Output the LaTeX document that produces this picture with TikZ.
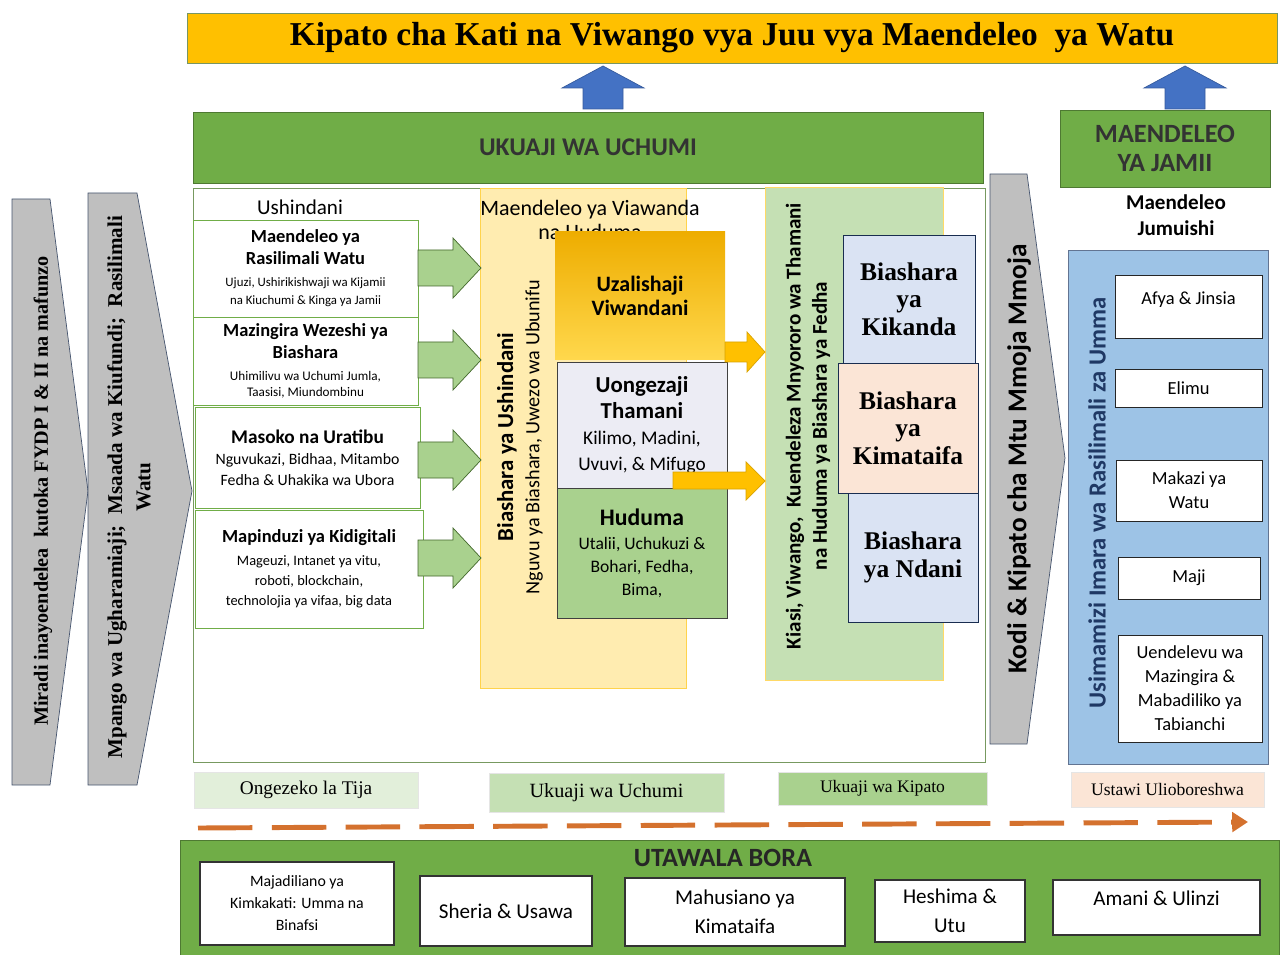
\documentclass[tikz,border=0pt]{standalone}
\usepackage{fontspec}
\setmainfont{Liberation Serif}
\setsansfont{Carlito}
\usepackage{tikz}
\usetikzlibrary{arrows.meta}

\definecolor{kgold}{HTML}{FFC000}
\definecolor{kgoldtop}{HTML}{EEAD00}
\definecolor{kgoldbottom}{HTML}{FFD84D}
\definecolor{kblue}{HTML}{4472C4}
\definecolor{kgreen}{HTML}{70AD47}
\definecolor{kgreenmid}{HTML}{A9D18E}
\definecolor{kgreenlight}{HTML}{C5E0B4}
\definecolor{kgreenpale}{HTML}{E2EFDA}
\definecolor{kyellow}{HTML}{FFECB0}
\definecolor{kbluepale}{HTML}{DAE3F3}
\definecolor{kpeach}{HTML}{FBE5D6}
\definecolor{klavender}{HTML}{ECECF4}
\definecolor{kbluemid}{HTML}{9DC3E6}
\definecolor{kgray}{HTML}{BFBFBF}
\definecolor{knavy}{HTML}{1F3864}
\definecolor{krust}{HTML}{D4712E}

\newcommand{\fsz}[2]{\fontsize{#1}{#2}\selectfont}

\begin{document}
\begin{tikzpicture}[x=0.02cm, y=-0.02cm,
    span/.style n args={4}{at={({(#1+#3)/2},{(#2+#4)/2})},
        minimum width={(#3-#1)*0.02cm}, minimum height={(#4-#2)*0.02cm}},
    box/.style={inner sep=0pt, align=center},
    pillar/.style={box, draw=kgreen!70!black, fill=kgreen, text=black!80},
    gbox/.style={box, draw=kgreen, fill=white},
    dbox/.style={box, draw=black!75},
    tbox/.style={box, draw=knavy!80!black, font=\bfseries\fsz{14.5}{15.6}},
    wbox/.style={box, draw=black!85, fill=white, font=\sffamily\fsz{10.5}{13.6}},
    ubox/.style={box, draw=black!80, fill=white, semithick, font=\sffamily\fsz{12}{16.4}},
    phase/.style={box, draw=black!10, font=\fsz{11}{13}},
    chevron/.style={draw=knavy!60!gray, fill=kgray},
    greenarrow/.style={draw=kgreen!60!black, fill=kgreenmid},
    goldarrow/.style={draw=kgold!85!black, fill=kgold},
    bluearrow/.style={draw=kblue!80!black, fill=kblue}]
    \useasboundingbox (0,0) rectangle (1283,955);

    % Title banner and the two arrows feeding it
    \node[box, draw=kgreen!50!gray, fill=kgold, span={187}{13}{1277}{63},
          font=\bfseries\fsz{19}{22}] (kipato) {Kipato cha Kati na Viwango vya Juu vya Maendeleo\ \ ya Watu};
    \foreach \cx in {603,1185}
        \draw[bluearrow] (\cx-20,109) -- (\cx-20,88) -- (\cx-41,88) -- (\cx,66)
            -- (\cx+41,88) -- (\cx+20,88) -- (\cx+20,109) -- cycle;

    % Pillar headings
    \node[pillar, span={193}{112}{983}{183}, font=\sffamily\bfseries\fsz{14.5}{16}] (uchumi) {UKUAJI WA UCHUMI};
    \node[pillar, span={1060}{110}{1270}{187}, font=\sffamily\bfseries\fsz{15}{16.5}] (jamii) {MAENDELEO\\YA JAMII};

    % Frame round the growth pillar
    \node[box, draw=kgreen!55!gray, fill=white, span={193}{188}{985}{762}] (frame) {};

    % Chevrons
    \draw[chevron] (12,199) -- (50,199) -- (88,491) -- (50,785) -- (12,785) -- cycle;
    \node[rotate=90, font=\bfseries\fsz{11.5}{14}] (miradi) at (43,491) {Miradi inayoendelea\ \ kutoka FYDP I \& II na mafunzo};
    \draw[chevron] (88,193) -- (137,193) -- (192,491) -- (137,785) -- (88,785) -- cycle;
    \node[rotate=90, box, font=\bfseries\fsz{12}{16}] (mpango) at (129,487) {Mpango wa Ugharamiaji;\ \ Msaada wa Kiufundi;\ \ Rasilimali\\Watu};
    \draw[chevron] (990,174) -- (1027,174) -- (1065,458) -- (1027,744) -- (990,744) -- cycle;
    \node[rotate=90, font=\sffamily\bfseries\fsz{15.5}{17}] (kodi) at (1019,459) {Kodi \& Kipato cha Mtu Mmoja Mmoja};

    % Ushindani column
    \node[font=\sffamily\fsz{12}{14}] (ushindani) at (300,207) {Ushindani};
    \node[gbox, span={193}{220}{418}{317}, font=\sffamily\fsz{7.3}{10.2}] (rasilimali)
        {{\bfseries\fsz{10.5}{12}Maendeleo ya}\\[2.3pt]{\bfseries\fsz{10.5}{12}Rasilimali Watu}\\[2.3pt]Ujuzi, Ushirikishwaji wa Kijamii\\na Kiuchumi \& Kinga ya Jamii};
    \node[gbox, span={193}{317}{418}{405}, font=\sffamily\fsz{7.5}{9}] (wezeshi)
        {{\bfseries\fsz{10.5}{12}Mazingira Wezeshi ya}\\[2.3pt]{\bfseries\fsz{10.5}{12}Biashara}\\[3.5pt]Uhimilivu wa Uchumi Jumla,\\Taasisi, Miundombinu};
    \node[gbox, span={195}{407}{420}{508}, font=\sffamily\fsz{9}{12}] (masoko)
        {{\bfseries\fsz{11}{12}Masoko na Uratibu}\\Nguvukazi, Bidhaa, Mitambo\\Fedha \& Uhakika wa Ubora};
    \node[gbox, span={195}{510}{423}{628}, font=\sffamily\fsz{8.2}{11.5}] (kidigitali)
        {{\bfseries\fsz{10.5}{12}Mapinduzi ya Kidigitali}\\[1.5pt]Mageuzi, Intanet ya vitu,\\roboti, blockchain,\\technolojia ya vifaa, big data};

    % Industry and services column
    \node[box, draw=kgold!70, fill=kyellow, span={480}{188}{686}{688}] (viwanda) {};
    \node[box, font=\sffamily\fsz{12.5}{14}] (viwandatitle) at (590,220) {Maendeleo ya Viawanda\\na Huduma};
    \node[rotate=90, box, font=\sffamily\fsz{11.5}{15}] (ushbiashara) at (520,437)
        {{\bfseries\fsz{13}{15}Biashara ya Ushindani}\\Nguvu ya Biashara, Uwezo wa Ubunifu};
    \foreach \yy in {268,360,460,558}
        \draw[greenarrow] (418,\yy-18) -- (453,\yy-18) -- (453,\yy-30) -- (481,\yy)
            -- (453,\yy+30) -- (453,\yy+18) -- (418,\yy+18) -- cycle;
    \node[box, top color=kgoldtop, bottom color=kgoldbottom, span={555}{232}{725}{360},
          font=\sffamily\bfseries\fsz{12.5}{14}] (uzalishaji) {Uzalishaji\\Viwandani};
    \node[dbox, fill=klavender, span={557}{362}{727}{488}, font=\sffamily\fsz{11}{14.7}] (thamani)
        {{\bfseries\fsz{13}{14}Uongezaji}\\{\bfseries\fsz{13}{14}Thamani}\\Kilimo, Madini,\\Uvuvi, \& Mifugo};
    \node[dbox, fill=kgreenmid, span={557}{488}{727}{618}, font=\sffamily\fsz{10}{13}] (huduma)
        {{\bfseries\fsz{13.5}{15}Huduma}\\[1pt]Utalii, Uchukuzi \&\\Bohari, Fedha,\\Bima,};

    % Trade column
    \node[box, draw=kgold!60, fill=kgreenlight, span={765}{187}{943}{680}] (fedha) {};
    \node[rotate=90, box, font=\sffamily\bfseries\fsz{12}{15}] (kiasi) at (808,426)
        {Kiasi, Viwango,\ \ Kuendeleza Mnyororo wa Thamani\\na Huduma ya Biashara ya Fedha};
    \draw[goldarrow] (725,342) -- (747,342) -- (747,332) -- (765,352) -- (747,372) -- (747,362) -- (725,362) -- cycle;
    \draw[goldarrow] (673,472) -- (746,472) -- (746,462) -- (765,481) -- (746,500) -- (746,489) -- (673,489) -- cycle;
    \node[tbox, fill=kbluepale, span={843}{235}{975}{363}] (kikanda) {Biashara\\ya\\Kikanda};
    \node[tbox, fill=kpeach, span={838}{363}{978}{493}] (kimataifa) {Biashara\\ya\\Kimataifa};
    \node[tbox, fill=kbluepale, span={848}{493}{978}{622}] (ndani) {Biashara\\ya Ndani};

    % Social development column
    \node[box, font=\sffamily\bfseries\fsz{12}{15}] (jumuishi) at (1176,215) {Maendeleo\\Jumuishi};
    \node[box, draw=knavy!70, fill=kbluemid, span={1068}{250}{1268}{764}] (umma) {};
    \node[rotate=90, font=\sffamily\bfseries\fsz{14}{15}, text=knavy] (usimamizi) at (1097,503) {Usimamizi Imara wa Rasilimali za Umma};
    \node[wbox, span={1115}{275}{1262}{338}, text depth=10pt] (afya) {Afya \& Jinsia};
    \node[wbox, span={1115}{369}{1262}{407}] (elimu) {Elimu};
    \node[wbox, span={1116}{460}{1262}{521}] (makazi) {Makazi ya\\Watu};
    \node[wbox, span={1118}{557}{1260}{599}] (maji) {Maji};
    \node[wbox, span={1118}{635}{1262}{742}] (mazingira) {Uendelevu wa\\Mazingira \&\\Mabadiliko ya\\Tabianchi};

    % Outcomes along the bottom
    \node[phase, fill=kgreenpale, span={194}{772}{418}{808}] (tija) {Ongezeko la Tija};
    \node[phase, fill=kgreenlight, span={489}{773}{724}{812}, font=\fsz{11.5}{13}] (ukuaji) {Ukuaji wa Uchumi};
    \node[phase, fill=kgreenmid, span={778}{772}{987}{805}, font=\fsz{10}{12}] (ukuajikipato) {Ukuaji wa Kipato};
    \node[phase, fill=kpeach, span={1071}{772}{1264}{807}, font=\fsz{10}{12}] (ustawi) {Ustawi Ulioboreshwa};
    \coordinate (dstart) at (198,828);
    \coordinate (dend) at (1248,822);
    \draw[krust, line width=2.8pt, dash pattern=on 31pt off 11pt,
          -{Triangle[length=9pt,width=11pt]}] (dstart) -- (dend);

    % Good governance band
    \node[box, draw=kgreen!70!black, fill=kgreen, span={180}{840}{1279}{962}] (utawala) {};
    \node[font=\sffamily\bfseries\fsz{15}{17}, text=black!85] (utawalatitle) at (723,858) {UTAWALA BORA};
    \node[ubox, span={200}{862}{394}{945}, font=\sffamily\fsz{9}{12.5}] (majadiliano) {Majadiliano ya\\Kimkakati: Umma na\\Binafsi};
    \node[ubox, span={420}{876}{592}{946}] (sheria) {Sheria \& Usawa};
    \node[ubox, span={625}{878}{845}{946}] (mahusiano) {Mahusiano ya\\Kimataifa};
    \node[ubox, span={875}{880}{1025}{942}] (heshima) {Heshima \&\\Utu};
    \node[ubox, span={1053}{880}{1260}{935}, text depth=11pt] (amani) {Amani \& Ulinzi};
\end{tikzpicture}
\end{document}
